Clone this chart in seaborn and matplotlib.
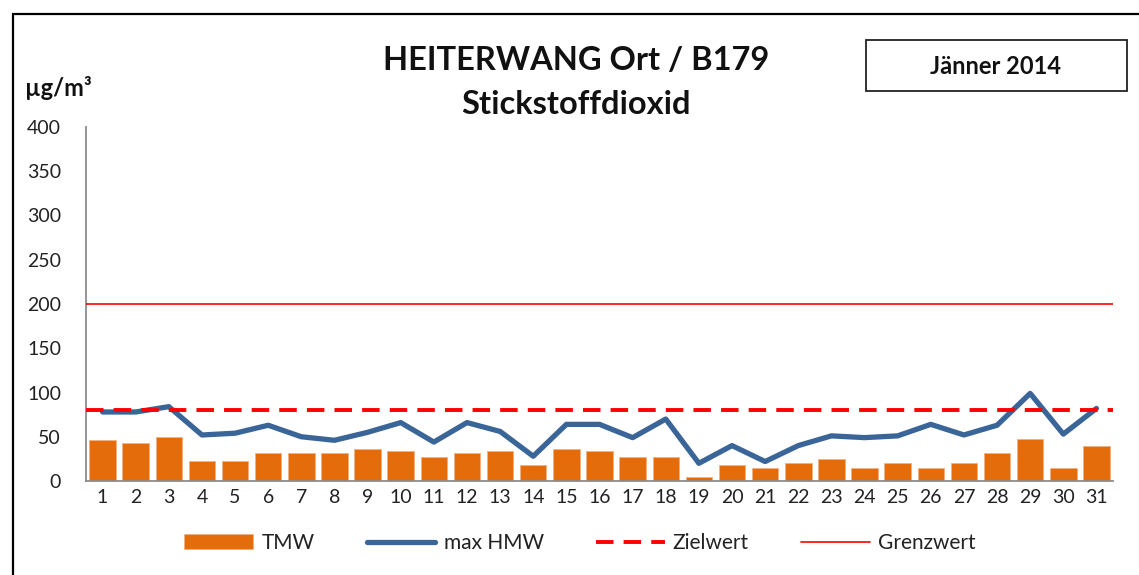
import numpy as np
import seaborn as sns
import matplotlib.pyplot as plt
from matplotlib.patches import Rectangle

# NO2 values, HEITERWANG Ort / B179, January 2014
days = [str(d) for d in range(1, 32)]
tmw = [46, 43, 50, 23, 23, 32, 32, 32, 36, 34, 27, 32, 34, 18, 36, 34,
       27, 27, 4, 18, 15, 20, 25, 15, 20, 15, 20, 32, 48, 15, 39]
max_hmw = [78, 78, 84, 52, 54, 63, 50, 46, 55, 66, 44, 66, 56, 28, 64, 64,
           49, 70, 20, 40, 22, 40, 51, 49, 51, 64, 52, 63, 99, 53, 82]
zielwert = 80
grenzwert = 200
yticks = [0, 50, 100, 150, 200, 250, 300, 350, 400]

sns.set_theme(style="white")
plt.rcParams['font.family'] = ['Lato', 'DejaVu Sans']

fig = plt.figure(figsize=(11.39, 5.75), dpi=100)
ax = fig.add_axes([86 / 1139, 1 - 481 / 575, (1113 - 86) / 1139, (481 - 127) / 575])

sns.barplot(x=days, y=tmw, color="#E46C0A", saturation=1, width=0.8,
            edgecolor="#F4B183", linewidth=0.6, label="TMW", ax=ax)
sns.lineplot(x=np.arange(len(days)), y=max_hmw, color="#3A6598", lw=3.8,
             label="max HMW", ax=ax, zorder=4)
ax.axhline(zielwert, color="#FF0000", lw=2.8, dashes=(4.5, 2.6), label="Zielwert", zorder=5)
ax.axhline(grenzwert, color="#FF0000", lw=1.2, label="Grenzwert", zorder=3)

ax.set_xlim(-0.5, len(days) - 0.5)
ax.set_ylim(0, 400)
ax.set_yticks(yticks)
ax.set_xlabel("")
ax.set_ylabel("")
for s in ["top", "right"]:
    ax.spines[s].set_visible(False)
for s in ["left", "bottom"]:
    ax.spines[s].set_color("#8C8C8C")
    ax.spines[s].set_linewidth(1.3)
ax.tick_params(axis="y", direction="in", length=6, width=1.2, color="#8C8C8C",
               labelsize=14, pad=18, labelcolor="#222222")
ax.tick_params(axis="x", length=0, labelsize=14, pad=6, labelcolor="#222222")

handles, labels = ax.get_legend_handles_labels()
order = ["TMW", "max HMW", "Zielwert", "Grenzwert"]
hmap = dict(zip(labels, handles))
ax.legend([hmap[k] for k in order], order, loc="center",
          bbox_to_anchor=(580 / 1139, 1 - 543 / 575),
          bbox_transform=fig.transFigure, ncol=4, frameon=False, fontsize=15,
          handlelength=3.3, handletextpad=0.4, columnspacing=2.5,
          labelcolor="#222222")

fig.text(576 / 1139, 1 - 60 / 575, "HEITERWANG Ort / B179", ha="center", va="center",
         fontsize=23.5, fontweight="bold", color="#111111")
fig.text(576 / 1139, 1 - 104 / 575, "Stickstoffdioxid", ha="center", va="center",
         fontsize=23.5, fontweight="bold", color="#111111")
fig.text(25 / 1139, 1 - 88 / 575, "µg/m³", ha="left", va="center",
         fontsize=17, fontweight="bold", color="#111111")

# month box
fig.patches.append(Rectangle((866 / 1139, 1 - 91 / 575), (1127 - 866) / 1139, 51 / 575,
                             transform=fig.transFigure, fill=False, edgecolor="#222222", lw=1.3))
fig.text(996 / 1139, 1 - 67 / 575, "Jänner 2014", ha="center", va="center",
         fontsize=17, fontweight="bold", color="#111111")

# outer frame
fig.patches.append(Rectangle((13 / 1139, -0.05), 1.1, 1 - 14 / 575 + 0.05,
                             transform=fig.transFigure, fill=False, edgecolor="black", lw=1.6))

fig.savefig("out.png", dpi=100)
